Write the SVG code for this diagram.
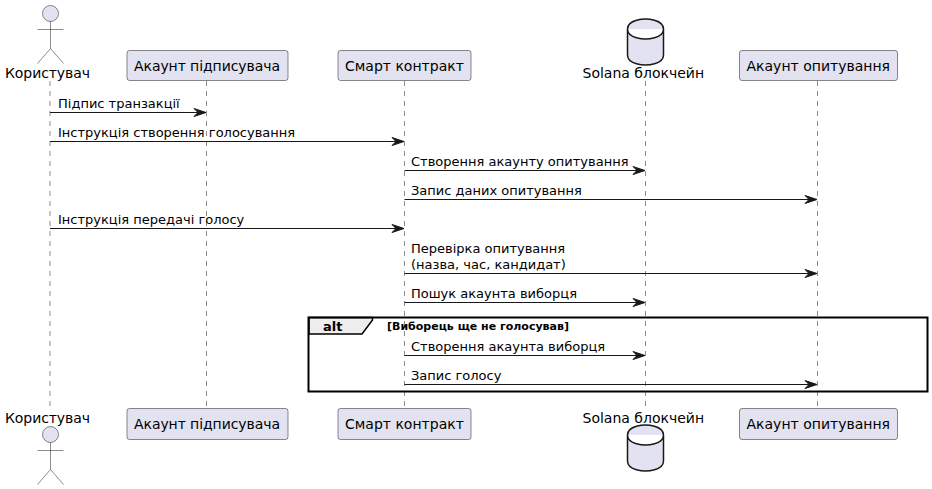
<svg xmlns="http://www.w3.org/2000/svg" width="932" height="489" viewBox="0 0 932 489">
<style>
text{font-family:"DejaVu Sans",sans-serif;fill:#000}
.n{font-size:14px}
.m{font-size:13px}
.life{stroke:#181818;stroke-width:.5;stroke-dasharray:5,5;fill:none}
.box{fill:#E2E2F0;stroke:#181818;stroke-width:.5}
.act{fill:#E2E2F0;stroke:#181818;stroke-width:.5}
.db{fill:#E2E2F0;stroke:#181818;stroke-width:1.5}
.msg{stroke:#181818;stroke-width:1;fill:none}
.ah{fill:#181818;stroke:#181818;stroke-width:1}
</style>
<defs>
<g id="actor"><circle class="act" cx="0" cy="0" r="8"/><path class="act" style="fill:none" d="M0,8V35M-13,16H13M0,35L-13,50M0,35L13,50"/></g>
<path id="cyl" class="db" d="M-18,10C-18,0 0,0 0,0C0,0 18,0 18,10V36C18,46 0,46 0,46C0,46 -18,46 -18,36ZM-18,10C-18,20 0,20 0,20C0,20 18,20 18,10"/>
<path id="head" class="ah" d="M0,0L-12,-4L-8,0L-12,4Z"/>
</defs>
<g id="lifelines">
<path class="life" d="M50,81V408"/><path class="life" d="M206.500,81V408"/><path class="life" d="M404.500,81V408"/><path class="life" d="M645.500,81V408"/><path class="life" d="M817.500,81V408"/>
</g>
<g id="user-top"><use href="#actor" x="50.500" y="13.500"/><text class="n" x="5" y="78" textLength="85">Користувач</text></g>
<g id="signer-top"><rect class="box" x="127" y="50.500" width="161" height="30" rx="2.500"/><text class="n" x="134" y="70.500" textLength="146">Акаунт підписувача</text></g>
<g id="contract-top"><rect class="box" x="338" y="50.500" width="133" height="30" rx="2.500"/><text class="n" x="345" y="70.500">Смарт контракт</text></g>
<g id="solana-top"><use href="#cyl" x="645.500" y="19"/><text class="n" x="582.500" y="78">Solana блокчейн</text></g>
<g id="poll-top"><rect class="box" x="739.500" y="50.500" width="158" height="30" rx="2.500"/><text class="n" x="746.500" y="70.500">Акаунт опитування</text></g>
<g id="user-bottom"><text class="n" x="5" y="423" textLength="85">Користувач</text><use href="#actor" x="50.500" y="434.500"/></g>
<g id="signer-bottom"><rect class="box" x="127" y="408.500" width="161" height="31" rx="2.500"/><text class="n" x="134" y="429" textLength="146">Акаунт підписувача</text></g>
<g id="contract-bottom"><rect class="box" x="338" y="408.500" width="133" height="31" rx="2.500"/><text class="n" x="345" y="429">Смарт контракт</text></g>
<g id="solana-bottom"><text class="n" x="582.500" y="423">Solana блокчейн</text><use href="#cyl" x="645.500" y="425"/></g>
<g id="poll-bottom"><rect class="box" x="739.500" y="408.500" width="158" height="31" rx="2.500"/><text class="n" x="746.500" y="429">Акаунт опитування</text></g>
<g id="alt-frame">
<path d="M309,317.500H372.500V320L362,334H309Z" fill="#EEEEEE" stroke="#000" stroke-width="1.500"/>
<rect x="308.500" y="317.500" width="619" height="74" fill="none" stroke="#000" stroke-width="2"/>
<text x="323" y="330.500" style="font-size:13px;font-weight:bold">alt</text>
<text x="387" y="330" style="font-size:11px;font-weight:bold">[Виборець ще не голосував]</text>
</g>
<g id="connectors">
<path class="msg" d="M50,112.500H205"/><use href="#head" x="206" y="112.500"/>
<path class="msg" d="M50,141.500H403"/><use href="#head" x="404" y="141.500"/>
<path class="msg" d="M404.500,170.500H644"/><use href="#head" x="645" y="170.500"/>
<path class="msg" d="M404.500,199.500H816"/><use href="#head" x="817" y="199.500"/>
<path class="msg" d="M50,228.500H403"/><use href="#head" x="404" y="228.500"/>
<path class="msg" d="M404.500,273.500H816"/><use href="#head" x="817" y="273.500"/>
<path class="msg" d="M404.500,302.500H644"/><use href="#head" x="645" y="302.500"/>
<path class="msg" d="M404.500,355.500H644"/><use href="#head" x="645" y="355.500"/>
<path class="msg" d="M404.500,384.500H816"/><use href="#head" x="817" y="384.500"/>
<text class="m" x="58" y="107.500">Підпис транзакції</text>
<text class="m" x="58" y="136.500">Інструкція створення голосування</text>
<text class="m" x="411" y="165.500">Створення акаунту опитування</text>
<text class="m" x="411" y="194.500">Запис даних опитування</text>
<text class="m" x="58" y="223.500">Інструкція передачі голосу</text>
<text class="m" x="411" y="253">Перевірка опитування</text>
<text class="m" x="411" y="268.500">(назва, час, кандидат)</text>
<text class="m" x="411" y="297.500">Пошук акаунта виборця</text>
<text class="m" x="411" y="350.500">Створення акаунта виборця</text>
<text class="m" x="411" y="380">Запис голосу</text>
</g>
</svg>
